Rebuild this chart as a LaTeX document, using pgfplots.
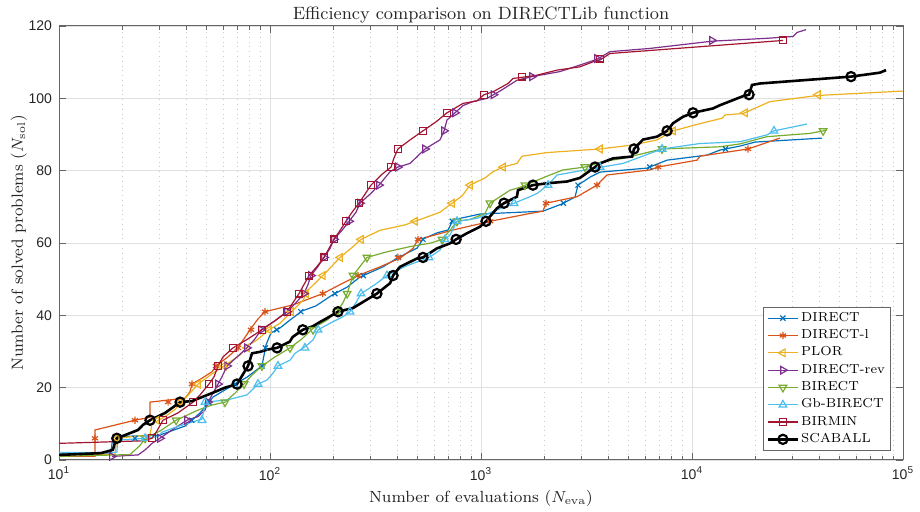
\documentclass[border=0pt]{standalone}
\usepackage{fontspec}
\setsansfont{Liberation Sans}
\usepackage{pgfplots}
\pgfplotsset{compat=1.18}

\definecolor{cDIRECT}{rgb}{0,0.447,0.741}
\definecolor{cDIRECTl}{rgb}{0.850,0.325,0.098}
\definecolor{cPLOR}{rgb}{0.929,0.694,0.125}
\definecolor{cDIRECTrev}{rgb}{0.494,0.184,0.556}
\definecolor{cBIRECT}{rgb}{0.466,0.674,0.188}
\definecolor{cGbBIRECT}{rgb}{0.301,0.745,0.933}
\definecolor{cBIRMIN}{rgb}{0.635,0.078,0.184}

\begin{document}
\begin{tikzpicture}
\useasboundingbox (-29.5pt,-26pt) rectangle (430.5pt,230pt);
\begin{axis}[
  at={(0,0)}, anchor=south west,
  scale only axis, width=422pt, height=217pt,
  xmode=log, xmin=10, xmax=100000, ymin=0, ymax=120,
  xtick={10,100,1000,10000,100000},
  xticklabels={10\textsuperscript{1},10\textsuperscript{2},10\textsuperscript{3},10\textsuperscript{4},10\textsuperscript{5}},
  minor xtick={20,30,40,50,60,70,80,90,200,300,400,500,600,700,800,900,2000,3000,4000,5000,6000,7000,8000,9000,20000,30000,40000,50000,60000,70000,80000,90000},
  ytick={0,20,40,60,80,100,120},
  yticklabels={0,20,40,60,80,100,120},
  tick label style={font=\sffamily\fontsize{7}{8}\selectfont, text=black!85},
  tick align=inside, major tick length=3.5pt, minor tick length=2pt,
  tick style={black!60, line width=0.4pt},
  axis line style={black!60, line width=0.5pt},
  xmajorgrids, ymajorgrids, xminorgrids,
  major grid style={black!12, line width=0.4pt},
  minor grid style={black!20, dotted, line width=0.4pt},
  title={Efficiency comparison on DIRECTLib function},
  title style={at={(0.5,1)}, anchor=south, inner sep=1pt, yshift=-6pt,
    font=\fontsize{8.9}{10}\selectfont, text=black!85},
  xlabel={Number of evaluations ($N_{\mathrm{eva}}$)},
  ylabel={Number of solved problems ($N_{\mathrm{sol}}$)},
  xlabel shift=-2pt, ylabel shift=-6pt,
  label style={font=\fontsize{8.1}{9.5}\selectfont, text=black!85},
  legend style={at={(0.985,0.021)}, anchor=south east,
    font=\fontsize{6.5}{7.5}\selectfont, draw=black!60, line width=0.4pt,
    inner sep=1.5pt, row sep=0.6pt, fill=white, nodes={inner sep=1pt}},
  legend image code/.code={%
    \draw[mark repeat=2, mark phase=2] plot coordinates {(0pt,0pt)(7.5pt,0pt)(15pt,0pt)};},
  legend cell align=left,
  every axis plot/.append style={line width=0.6pt},
]

% DIRECT
\addplot[cDIRECT, forget plot] coordinates {
(10,1.9)(17.6,1.9)(18.0,6.4)(30.1,6.9)(39.6,9.4)(46.6,13)(53.7,17.4)(64.6,20.2)(77.8,22.9)(91.6,26)(95.7,31.8)(101,35.1)(111.5,36.5)(124.4,38.7)(141.8,41.2)(165,42.6)(197,45.6)(232,47.8)(267,50.6)(343,53.4)(400,55.8)(498,58.6)(531,61.1)(619,62.8)(698,63.6)(737,66.4)(989,68)(1967,68.8)(2420,70.8)(2790,72.7)(2882,76)(3286,78.2)(3664,79.6)(6120,80.7)(7610,82.9)(11780,84.3)(13570,85.7)(16890,86.8)(19890,87.9)(41300,89)};
\addplot[cDIRECT, only marks, mark=x, mark size=1.8pt, forget plot] coordinates {
(22.9,6)(42.6,11)(51.3,16)(68.3,21)(91.6,26)(95.1,31)(107.7,36)(140,41)(203,46)(277,51)(406,56)(531,61)(731,66)(2458,71)(2882,76)(6305,81)(14410,86)};

% DIRECT-l
\addplot[cDIRECTl, forget plot] coordinates {
(10,1)(14.8,1)(14.8,8.3)(22.9,11)(27.0,11.8)(27.0,16)(39.6,17.1)(41.8,18.9)(42.7,21)(47.6,22.6)(53.1,24.4)(55.5,26)(63.2,28.5)(70.5,31)(80.4,36)(87.7,39)(94.7,41)(128.5,42.9)(178,46)(215,48.5)(261,51)(332,53.4)(413,55.8)(476,58.5)(503,61)(531,61.3)(737,63.6)(1022,65.5)(1103,66)(1652,68)(1967,68.8)(2032,71)(2851,72.8)(3546,76)(3956,78.8)(6320,80.2)(6900,81)(10560,82.9)(10910,84)(18430,86)(26100,89)};
\addplot[cDIRECTl, only marks, mark=asterisk, mark size=1.8pt, forget plot] coordinates {
(14.8,6)(22.9,11)(32.9,16)(42.7,21)(55.5,26)(70.5,31)(81.3,36)(94.7,41)(178,46)(261,51)(404,56)(503,61)(1103,66)(2032,71)(3546,76)(6900,81)(18430,86)};

% PLOR
\addplot[cPLOR, forget plot] coordinates {
(10,1.5)(18.4,1.5)(18.8,6)(27.0,7)(27.6,10)(31.8,12)(35.5,14)(39.6,17)(44.1,20)(45.6,21)(53.7,24)(60.5,26)(72.1,29)(80.4,32)(86.8,33.2)(98.9,36)(111.5,37.8)(124.4,40.6)(143.4,44.2)(151.4,47)(178,51)(215,56)(247.5,59)(270,61)(332,63.5)(436,65)(487,66)(639,68.5)(729,71)(813,73)(887,76)(1045,78)(1140,79.7)(1272,81)(1481,82)(1564,84)(2055,85)(3664,86)(5253,87.1)(6826,88.5)(8130,91)(10910,93)(13880,94.5)(14340,95.4)(17450,95.8)(20320,97.5)(23430,99.1)(39560,100.8)(100000,102)};
\addplot[cPLOR, only marks, mark=triangle, mark size=2.2pt, mark options={rotate=90}, forget plot] coordinates {
(18.8,6)(29.1,11)(37.5,16)(45.6,21)(60.5,26)(77.8,31)(98.9,36)(125.8,41)(148.1,46)(178,51)(215,56)(270,61)(487,66)(729,71)(887,76)(1272,81)(3664,86)(8130,91)(17830,96)(39560,101)};

% DIRECT-rev
\addplot[cDIRECTrev, forget plot] coordinates {
(17.8,1)(23.7,1.4)(25.6,2.8)(27.6,4.6)(30.1,6)(34.3,8.3)(40.4,11)(45.6,12)(49.2,13.8)(50.8,16)(53.7,18.5)(56.7,21)(59.2,23)(62.6,26)(69.8,28.5)(77.8,31)(84.9,33.5)(90.7,36)(105.6,38.5)(120.4,41)(132.8,43.5)(144.9,46)(151.4,48.5)(156.4,51)(168.9,53.5)(180.3,56)(192.5,58.5)(201,61)(219.4,63.5)(237,66)(255.6,68.5)(267,71)(297.8,73.5)(328.6,76)(370.6,79.7)(404,81)(461,82)(543,86)(639,88.5)(668,91)(690,94)(753,96)(822,98)(916,99.1)(1068,100)(1146,101)(1230,102)(1481,105)(1745,106)(2370,107.4)(2945,109.2)(3546,110.8)(4087,112.9)(6320,113.8)(12440,115.8)(22670,116.6)(30100,117.1)(31450,118.2)(34700,119)};
\addplot[cDIRECTrev, only marks, mark=triangle, mark size=2.2pt, mark options={rotate=-90}, forget plot] coordinates {
(17.8,1)(30.1,6)(40.4,11)(50.8,16)(56.7,21)(62.6,26)(77.8,31)(90.7,36)(120.4,41)(144.9,46)(156.4,51)(180.3,56)(201,61)(237,66)(267,71)(328.6,76)(404,81)(543,86)(668,91)(753,96)(1146,101)(1745,106)(3546,111)(12440,116)};

% BIRECT
\addplot[cBIRECT, forget plot] coordinates {
(10,1)(21.7,1.5)(24.2,4)(25.6,6)(30.1,8)(35.9,11)(45.6,13.8)(53.1,15.2)(61.2,16)(68.3,18.5)(75.3,21)(82.2,23.5)(91.6,26)(105.6,28.5)(124.4,31)(141.8,33.5)(160,36.4)(186.4,38.7)(207.8,41)(221.8,43.5)(232,46)(239.4,48.5)(247.5,51)(267,53.5)(288,56)(355,57.5)(461,59)(580,60)(653.5,61)(713,63.5)(770,66)(887,66.5)(1045,68.2)(1103,71)(1372,74.6)(1531,75.4)(2123,78.8)(2447,80.2)(3110,81)(3785,82.5)(4710,83.4)(7213,86)(13570,86.6)(16890,87.4)(22670,89.4)(36240,90.3)(41800,91)(43600,91.3)};
\addplot[cBIRECT, only marks, mark=triangle, mark size=2.2pt, mark options={rotate=180}, forget plot] coordinates {
(25.6,6)(35.9,11)(61.2,16)(75.3,21)(91.6,26)(124.4,31)(160,36)(207.8,41)(232,46)(247.5,51)(288,56)(653.5,61)(770,66)(1103,71)(1616,76)(3110,81)(7213,86)(41800,91)};

% Gb-BIRECT
\addplot[cGbBIRECT, forget plot] coordinates {
(10,2.1)(18.8,2.1)(19.0,5.5)(25.6,6)(29.5,6.5)(30.8,7.7)(37.5,9.5)(47.6,11.3)(48.7,14)(49.2,16)(62.6,16.6)(77.8,18)(87.7,21)(96.8,22.1)(103.3,24)(109.1,26)(124.4,27.6)(131.4,29.5)(146.5,31.3)(160,33.2)(168.9,36)(192.5,37.8)(221.8,39.6)(239.4,41)(255.6,43.5)(270,46)(314.5,48.5)(358.5,51)(436,53.5)(567,56)(639,58)(675,61)(713,62.2)(770,66)(957,66.8)(1140,68.7)(1434,71)(1707,72.8)(1843,73.7)(2078,76)(2292,78.8)(3395,80.6)(4710,82)(7213,86)(10910,87.5)(16890,88)(22670,89.9)(24470,91)(35100,92.9)};
\addplot[cGbBIRECT, only marks, mark=triangle, mark size=2.2pt, forget plot] coordinates {
(25.6,6)(47.6,11)(49.2,16)(87.7,21)(109.1,26)(146.5,31)(168.9,36)(239.4,41)(270,46)(358.5,51)(567,56)(675,61)(770,66)(1434,71)(2078,76)(3664,81)(7213,86)(24470,91)};

% BIRMIN
\addplot[cBIRMIN, forget plot] coordinates {
(10,4.6)(25.0,5.3)(27.6,6)(29.1,8)(31.1,11)(36.6,13)(43.2,16)(46.6,18)(51.4,21)(54.3,23)(56.7,26)(59.9,28.5)(66.8,31)(78.7,33.5)(91.6,36)(105.6,38.5)(120.4,41)(128.5,43.5)(137.2,46)(144.9,48.5)(153.1,51)(167,53.5)(180.3,56)(190.4,58.5)(201,61)(215,63.5)(229,66)(244.7,68.5)(264,71)(282,73.5)(301,76)(339.5,79)(375,81)(387,83.5)(404,86)(461,88.5)(531,91)(612,93.5)(690,96)(822,98.6)(957,99.3)(1033,101)(1140,101.8)(1343,104.1)(1418,105.5)(1564,105.8)(1843,106.4)(2292,107.8)(2945,108.7)(3395,110.1)(3664,110.6)(4087,112.4)(27000,116)};
\addplot[cBIRMIN, only marks, mark=square, mark size=1.7pt, forget plot] coordinates {
(27.6,6)(31.1,11)(43.2,16)(51.4,21)(56.7,26)(66.8,31)(91.6,36)(120.4,41)(137.2,46)(153.1,51)(180.3,56)(201,61)(229,66)(264,71)(301,76)(375,81)(404,86)(531,91)(690,96)(1033,101)(1564,106)(3664,111)(27000,116)};

% SCABALL
\addplot[black, line width=1.3pt, forget plot] coordinates {
(10,1.4)(15.8,1.9)(18.0,2.8)(18.4,4.7)(18.8,6)(23.7,8.3)(25.0,9.7)(27.0,11)(31.8,13)(37.5,16)(42.7,16.3)(53.1,18.5)(61.2,20)(69.8,21)(78.7,26)(82.2,29.5)(89.7,29.9)(96.8,30.5)(108,31)(124,32.7)(128,34)(143,36)(160,37)(173,38.2)(186,39.2)(210,41)(247,42)(321,46)(371,48.9)(383,51)(413,53.4)(451,54.5)(497,55.7)(531,56)(618,58.5)(713,59.9)(762,61)(858,62.7)(989,64.5)(1056,66)(1190,69.6)(1285,71)(1480,72.8)(1497,74.6)(1763,76)(2055,76.5)(2557,77)(2945,78)(3470,81)(3664,82)(4224,83.4)(5200,83.9)(5309,86)(5860,88.6)(6826,89.4)(7620,91)(8130,93.1)(9060,94.9)(10110,96)(12580,97.2)(13570,98.1)(15640,99.5)(17450,100.6)(18640,101)(19250,103.7)(21000,104.1)(56700,106)(77800,107.1)(83100,107.8)};
\addplot[black, only marks, mark=o, mark size=2.3pt, mark options={line width=1.1pt}, forget plot] coordinates {
(18.8,6)(27.0,11)(37.5,16)(69.8,21)(78.7,26)(108,31)(143,36)(210,41)(321,46)(383,51)(531,56)(762,61)(1056,66)(1285,71)(1763,76)(3470,81)(5309,86)(7620,91)(10110,96)(18640,101)(56700,106)};

\addlegendimage{cDIRECT, line width=0.6pt, mark=x, mark size=1.8pt}
\addlegendentry{DIRECT}
\addlegendimage{cDIRECTl, line width=0.6pt, mark=asterisk, mark size=1.8pt}
\addlegendentry{DIRECT-l}
\addlegendimage{cPLOR, line width=0.6pt, mark=triangle, mark size=2.2pt, mark options={rotate=90}}
\addlegendentry{PLOR}
\addlegendimage{cDIRECTrev, line width=0.6pt, mark=triangle, mark size=2.2pt, mark options={rotate=-90}}
\addlegendentry{DIRECT-rev}
\addlegendimage{cBIRECT, line width=0.6pt, mark=triangle, mark size=2.2pt, mark options={rotate=180}}
\addlegendentry{BIRECT}
\addlegendimage{cGbBIRECT, line width=0.6pt, mark=triangle, mark size=2.2pt}
\addlegendentry{Gb-BIRECT}
\addlegendimage{cBIRMIN, line width=0.6pt, mark=square, mark size=1.7pt}
\addlegendentry{BIRMIN}
\addlegendimage{black, line width=1.3pt, mark=o, mark size=2.3pt, mark options={line width=1.1pt}}
\addlegendentry{SCABALL}
\end{axis}
\end{tikzpicture}
\end{document}
